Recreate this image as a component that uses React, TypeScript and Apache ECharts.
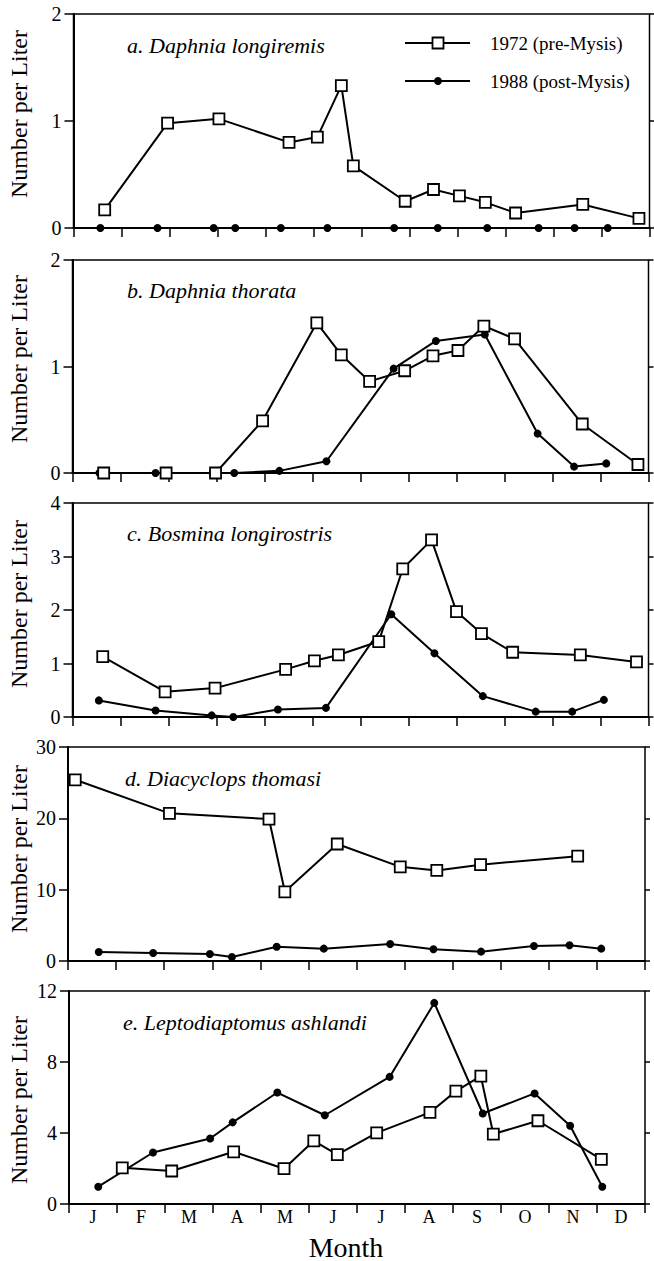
import React, { useEffect, useRef } from "react";
import * as echarts from "echarts";

// Sampling dates are in months from 1 January (0 = start of Jan, 12 = end of Dec)
const monthLabels = ["J", "F", "M", "A", "M", "J", "J", "A", "S", "O", "N", "D"];
const seriesNames = ["1972 (pre-Mysis)", "1988 (post-Mysis)"];
const panelTitles = [
  "a. Daphnia longiremis",
  "b. Daphnia thorata",
  "c. Bosmina longirostris",
  "d. Diacyclops thomasi",
  "e. Leptodiaptomus ashlandi",
];
const yMax = [2, 2, 4, 30, 12];
const yInterval = [1, 1, 1, 10, 4];

// a. Daphnia longiremis
const a1972X = [0.65, 1.96, 3.03, 4.49, 5.08, 5.58, 5.83, 6.91, 7.5, 8.04, 8.58, 9.21, 10.61, 11.78];
const a1972Y = [0.17, 0.98, 1.02, 0.8, 0.85, 1.33, 0.58, 0.25, 0.36, 0.3, 0.24, 0.14, 0.22, 0.09];
const a1988X = [0.56, 1.75, 2.92, 3.37, 4.32, 5.29, 6.68, 7.59, 8.62, 9.69, 10.44, 11.13];
const a1988Y = [0, 0, 0, 0, 0, 0, 0, 0, 0, 0, 0, 0];

// b. Daphnia thorata
const b1972X = [0.65, 1.95, 2.98, 3.96, 5.09, 5.6, 6.19, 6.92, 7.51, 8.03, 8.57, 9.21, 10.62, 11.78];
const b1972Y = [0, 0, 0, 0.49, 1.41, 1.11, 0.86, 0.96, 1.1, 1.15, 1.38, 1.26, 0.46, 0.08];
const b1988X = [0.56, 1.73, 2.92, 3.37, 4.31, 5.29, 6.69, 7.57, 8.59, 9.69, 10.45, 11.12];
const b1988Y = [0, 0, 0, 0, 0.02, 0.11, 0.98, 1.24, 1.3, 0.37, 0.06, 0.09];

// c. Bosmina longirostris
const c1972X = [0.63, 1.93, 2.97, 4.44, 5.04, 5.54, 6.38, 6.88, 7.48, 8.0, 8.52, 9.17, 10.58, 11.75];
const c1972Y = [1.13, 0.47, 0.54, 0.89, 1.05, 1.16, 1.41, 2.77, 3.31, 1.97, 1.56, 1.21, 1.16, 1.03];
const c1988X = [0.55, 1.73, 2.9, 3.35, 4.28, 5.28, 6.64, 7.54, 8.55, 9.65, 10.41, 11.07];
const c1988Y = [0.31, 0.12, 0.03, 0.0, 0.14, 0.17, 1.92, 1.19, 0.39, 0.1, 0.1, 0.32];

// d. Diacyclops thomasi
const d1972X = [0.15, 2.11, 4.18, 4.51, 5.6, 6.91, 7.67, 8.58, 10.6];
const d1972Y = [25.4, 20.7, 19.9, 9.7, 16.4, 13.2, 12.7, 13.5, 14.7];
const d1988X = [0.64, 1.77, 2.95, 3.41, 4.34, 5.32, 6.7, 7.6, 8.59, 9.69, 10.43, 11.09];
const d1988Y = [1.27, 1.13, 0.98, 0.56, 2.0, 1.73, 2.39, 1.64, 1.31, 2.11, 2.2, 1.73];

// e. Leptodiaptomus ashlandi
const e1972X = [1.11, 2.14, 3.43, 4.48, 5.1, 5.59, 6.41, 7.52, 8.06, 8.58, 8.84, 9.77, 11.09];
const e1972Y = [2.04, 1.86, 2.94, 1.99, 3.56, 2.78, 4.01, 5.16, 6.36, 7.2, 3.94, 4.69, 2.51];
const e1988X = [0.61, 1.75, 2.94, 3.41, 4.34, 5.33, 6.68, 7.61, 8.62, 9.7, 10.44, 11.11];
const e1988Y = [0.975, 2.9, 3.69, 4.6, 6.28, 5.0, 7.16, 11.33, 5.1, 6.23, 4.41, 0.975];

const zip = (xs: number[], ys: number[]) => xs.map((x, i) => [x, ys[i]]);

const panels1972 = [zip(a1972X, a1972Y), zip(b1972X, b1972Y), zip(c1972X, c1972Y), zip(d1972X, d1972Y), zip(e1972X, e1972Y)];
const panels1988 = [zip(a1988X, a1988Y), zip(b1988X, b1988Y), zip(c1988X, c1988Y), zip(d1988X, d1988Y), zip(e1988X, e1988Y)];

// layout (px)
const grids = [
  { left: 73.5, top: 14, width: 576, height: 214 },
  { left: 72.5, top: 260, width: 576, height: 213 },
  { left: 72.5, top: 503, width: 576, height: 214 },
  { left: 68, top: 747, width: 577, height: 214 },
  { left: 69, top: 991, width: 576, height: 213 },
];
const titleY = [45, 290, 533, 778, 1022];
const titleX = [127, 127, 127, 125, 123];
const yLabelY = [114, 359, 604, 849, 1100];

const SERIF = "'Liberation Serif', 'Times New Roman', serif";

export default function App() {
  const ref = useRef<HTMLDivElement>(null);
  useEffect(() => {
    document.body.style.margin = "0";
    if (!ref.current) return;
    const chart = echarts.init(ref.current, null, { renderer: "svg" });

    const xAxis: any[] = [];
    const yAxis: any[] = [];
    const series: any[] = [];
    const graphic: any[] = [];

    grids.forEach((g, i) => {
      xAxis.push({
        type: "value",
        gridIndex: i,
        min: 0,
        max: 12,
        interval: 1,
        axisLine: { show: true, onZero: false, lineStyle: { color: "#000", width: 2 } },
        axisTick: { show: true, inside: false, length: 9, lineStyle: { color: "#000", width: 1.5 } },
        axisLabel: { show: false },
        splitLine: { show: false },
      });
      yAxis.push({
        type: "value",
        gridIndex: i,
        min: 0,
        max: yMax[i],
        interval: yInterval[i],
        position: "left",
        axisLine: { show: true, lineStyle: { color: "#000", width: 2 } },
        axisTick: { show: true, inside: false, length: 9, lineStyle: { color: "#000", width: 1.5 } },
        axisLabel: { show: true, margin: 12, color: "#000", fontFamily: SERIF, fontSize: 20 },
        splitLine: { show: false },
      });
      series.push({
        name: seriesNames[1],
        type: "line",
        xAxisIndex: i,
        yAxisIndex: i,
        data: panels1988[i],
        symbol: "circle",
        symbolSize: 8,
        itemStyle: { color: "#000" },
        lineStyle: { color: "#000", width: 2 },
        z: 3,
      });
      series.push({
        name: seriesNames[0],
        type: "line",
        xAxisIndex: i,
        yAxisIndex: i,
        data: panels1972[i],
        symbol: "rect",
        symbolSize: 11,
        itemStyle: { color: "#fff", borderColor: "#000", borderWidth: 1.8 },
        lineStyle: { color: "#000", width: 2 },
        z: 4,
      });
      graphic.push({
        type: "text",
        x: titleX[i],
        y: titleY[i],
        style: {
          text: panelTitles[i],
          fill: "#000",
          fontFamily: SERIF,
          fontStyle: "italic",
          fontSize: 22,
          align: "left",
          verticalAlign: "middle",
        },
      });
      graphic.push({
        type: "text",
        x: 19,
        y: yLabelY[i],
        rotation: Math.PI / 2,
        style: {
          text: "Number per Liter",
          fill: "#000",
          fontFamily: SERIF,
          fontSize: 24,
          align: "center",
          verticalAlign: "middle",
        },
      });
    });

    // right-side ticks
    grids.forEach((g, i) => {
      yAxis.push({
        type: "value",
        gridIndex: i,
        min: 0,
        max: yMax[i],
        interval: yInterval[i],
        position: "right",
        axisLine: { show: false },
        axisTick: { show: true, inside: false, length: 5, lineStyle: { color: "#000", width: 1.5 } },
        axisLabel: { show: false },
        splitLine: { show: false },
      });
    });

    // month labels for the bottom panel
    xAxis.push({
      type: "category",
      gridIndex: 4,
      position: "bottom",
      data: monthLabels,
      boundaryGap: true,
      axisLine: { show: false },
      axisTick: { show: false },
      axisLabel: { show: true, margin: 4, color: "#000", fontFamily: SERIF, fontSize: 18, interval: 0 },
      splitLine: { show: false },
    });

    // legend (panel a)
    const legX0 = 405;
    const legX1 = 470;
    const legRows = [43, 81];
    graphic.push(
      { type: "line", shape: { x1: legX0, y1: legRows[0], x2: legX1, y2: legRows[0] }, style: { stroke: "#000", lineWidth: 2 } },
      { type: "rect", shape: { x: 432.5, y: legRows[0] - 5.5, width: 11, height: 11 }, style: { fill: "#fff", stroke: "#000", lineWidth: 1.8 } },
      { type: "text", x: 490, y: legRows[0], style: { text: seriesNames[0], fill: "#000", fontFamily: SERIF, fontSize: 19, align: "left", verticalAlign: "middle" } },
      { type: "line", shape: { x1: legX0, y1: legRows[1], x2: legX1, y2: legRows[1] }, style: { stroke: "#000", lineWidth: 2 } },
      { type: "circle", shape: { cx: 438, cy: legRows[1], r: 4 }, style: { fill: "#000" } },
      { type: "text", x: 490, y: legRows[1], style: { text: seriesNames[1], fill: "#000", fontFamily: SERIF, fontSize: 19, align: "left", verticalAlign: "middle" } },
      { type: "text", x: 346, y: 1247, style: { text: "Month", fill: "#000", fontFamily: SERIF, fontSize: 28, align: "center", verticalAlign: "middle" } }
    );

    chart.setOption({
      animation: false,
      backgroundColor: "#fff",
      grid: grids.map((g) => ({ ...g, show: true, borderColor: "#000", borderWidth: 1.5, backgroundColor: "transparent" })),
      xAxis,
      yAxis,
      series,
      graphic,
    });
    return () => chart.dispose();
  }, []);
  return <div ref={ref} style={{ width: 654, height: 1261 }} />;
}
